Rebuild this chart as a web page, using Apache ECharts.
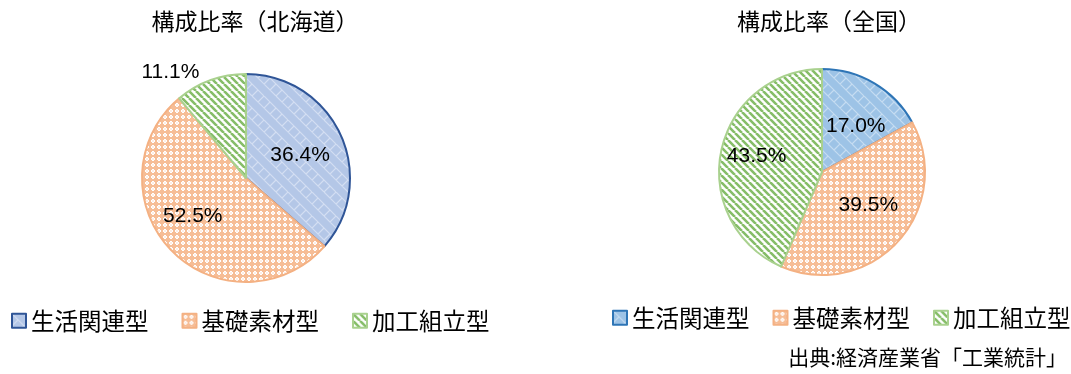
<!DOCTYPE html>
<html>
<head>
    <meta charset="UTF-8">
    <title>構成比率</title>
    <script src="https://cdn.jsdelivr.net/npm/echarts@6/dist/echarts.min.js"></script>
    <style>
        html, body { margin: 0; padding: 0; background: #fff; }
    </style>
</head>
<body>
    <div id="chart" style="width: 1071px; height: 374px;"></div>

    <script type="text/javascript">
        // データ
        var categories = ['生活関連型', '基礎素材型', '加工組立型'];
        var hokkaidoValues = [36.4, 52.5, 11.1];
        var zenkokuValues = [17.0, 39.5, 43.5];
        var titleLeft = '構成比率（北海道）';
        var titleRight = '構成比率（全国）';
        var sourceText = '出典:経済産業省「工業統計」';

        // 模様（パターン）を作る
        function brick(base, line) {
            var c = document.createElement('canvas');
            c.width = 24; c.height = 24;
            var ctx = c.getContext('2d');
            ctx.fillStyle = base;
            ctx.fillRect(0, 0, 24, 24);
            ctx.strokeStyle = line;
            ctx.lineWidth = 1.2;
            ctx.beginPath();
            // 長い線（＼）
            [-24, -12, 0, 12, 24].forEach(function (k) {
                ctx.moveTo(k, 0); ctx.lineTo(k + 24, 24);
            });
            // 短い線（／）
            ctx.moveTo(6, 18); ctx.lineTo(12, 12);
            ctx.moveTo(18, 30); ctx.lineTo(24, 24);
            ctx.moveTo(-6, 6); ctx.lineTo(0, 0);
            ctx.moveTo(18, 6); ctx.lineTo(24, 0);
            ctx.moveTo(12, 24); ctx.lineTo(18, 18);
            ctx.moveTo(0, 12); ctx.lineTo(6, 6);
            ctx.stroke();
            return { image: c, repeat: 'repeat' };
        }
        function lattice(base) {
            var c = document.createElement('canvas');
            c.width = 6; c.height = 6;
            var ctx = c.getContext('2d');
            ctx.fillStyle = base;
            ctx.fillRect(0, 0, 6, 6);
            ctx.fillStyle = '#ffffff';
            ctx.fillRect(2, 1, 2, 4);
            ctx.fillRect(1, 2, 4, 2);
            ctx.fillStyle = base;
            ctx.fillRect(2.5, 2.5, 1, 1);
            return { image: c, repeat: 'repeat' };
        }
        function stripes(line) {
            var c = document.createElement('canvas');
            c.width = 7; c.height = 7;
            var ctx = c.getContext('2d');
            ctx.fillStyle = '#ffffff';
            ctx.fillRect(0, 0, 7, 7);
            ctx.strokeStyle = line;
            ctx.lineWidth = 2.6;
            ctx.beginPath();
            [-7, 0, 7].forEach(function (k) {
                ctx.moveTo(k, 0); ctx.lineTo(k + 7, 7);
            });
            ctx.stroke();
            return { image: c, repeat: 'repeat' };
        }

        var leftStyles = [
            { color: brick('#b4c7e7', '#d3def2'), borderColor: '#2f5597' },
            { color: lattice('#f6bd96'), borderColor: '#f4b183' },
            { color: stripes('#86bd68'), borderColor: '#a9d18e' }
        ];
        var rightStyles = [
            { color: brick('#9dc3e6', '#c5dcf1'), borderColor: '#2e75b6' },
            { color: lattice('#f6bd96'), borderColor: '#f4b183' },
            { color: stripes('#86bd68'), borderColor: '#a9d18e' }
        ];

        function pieData(values, styles, extra) {
            return values.map(function (v, i) {
                var d = {
                    name: categories[i],
                    value: v,
                    itemStyle: { color: styles[i].color, borderColor: styles[i].borderColor, borderWidth: 2 }
                };
                if (extra && extra[i]) d.label = extra[i];
                return d;
            });
        }
        function legendData(styles) {
            return categories.map(function (n, i) {
                return { name: n, icon: 'rect', itemStyle: { color: styles[i].color, borderColor: styles[i].borderColor, borderWidth: 2 } };
            });
        }
        function pctLabel(p) { return p.value.toFixed(1) + '%'; }

        var titleFont = { fontFamily: 'Noto Sans CJK JP', fontSize: 23, fontWeight: 'normal', color: '#000' };
        var legendFont = { fontFamily: 'Noto Sans CJK JP', fontSize: 23.5, color: '#000' };
        var labelFont = { fontFamily: 'Liberation Sans', fontSize: 21, color: '#000' };

        var myChart = echarts.init(document.getElementById('chart'));

        var option = {
            animation: false,
            title: [
                { text: titleLeft, left: 250, top: 5, textAlign: 'center', textStyle: titleFont },
                { text: titleRight, left: 824, top: 5, textAlign: 'center', textStyle: titleFont }
            ],
            legend: [
                {
                    left: 11, top: 309, width: 540, padding: 0, itemWidth: 14, itemHeight: 14, itemGap: 33,
                    selectedMode: false, textStyle: legendFont, data: legendData(leftStyles)
                },
                {
                    left: 612, top: 306, width: 459, padding: 0, itemWidth: 14, itemHeight: 14, itemGap: 23,
                    selectedMode: false, textStyle: legendFont, data: legendData(rightStyles)
                }
            ],
            graphic: [{
                type: 'text',
                right: 4,
                top: 347,
                style: { text: sourceText, font: '21px "Noto Sans CJK JP"', fill: '#000' }
            }],
            series: [
                {
                    type: 'pie',
                    center: [246, 178],
                    radius: 104,
                    startAngle: 90,
                    clockwise: true,
                    label: Object.assign({ show: true, position: 'inside', formatter: pctLabel }, labelFont),
                    labelLine: { show: false, length: 6, length2: 0 },
                    data: pieData(hokkaidoValues, leftStyles, [
                        { offset: [4, 0] },
                        { offset: [-14, 0] },
                        { position: 'outside', offset: [-4, -2] }
                    ])
                },
                {
                    type: 'pie',
                    center: [822, 172],
                    radius: 103,
                    startAngle: 90,
                    clockwise: true,
                    label: Object.assign({ show: true, position: 'inside', formatter: pctLabel }, labelFont),
                    labelLine: { show: false, length: 6, length2: 0 },
                    data: pieData(zenkokuValues, rightStyles, [
                        { offset: [6, 1] },
                        { offset: [6, -3] },
                        { offset: [-12, -5] }
                    ])
                }
            ]
        };

        myChart.setOption(option);
    </script>
</body>
</html>
